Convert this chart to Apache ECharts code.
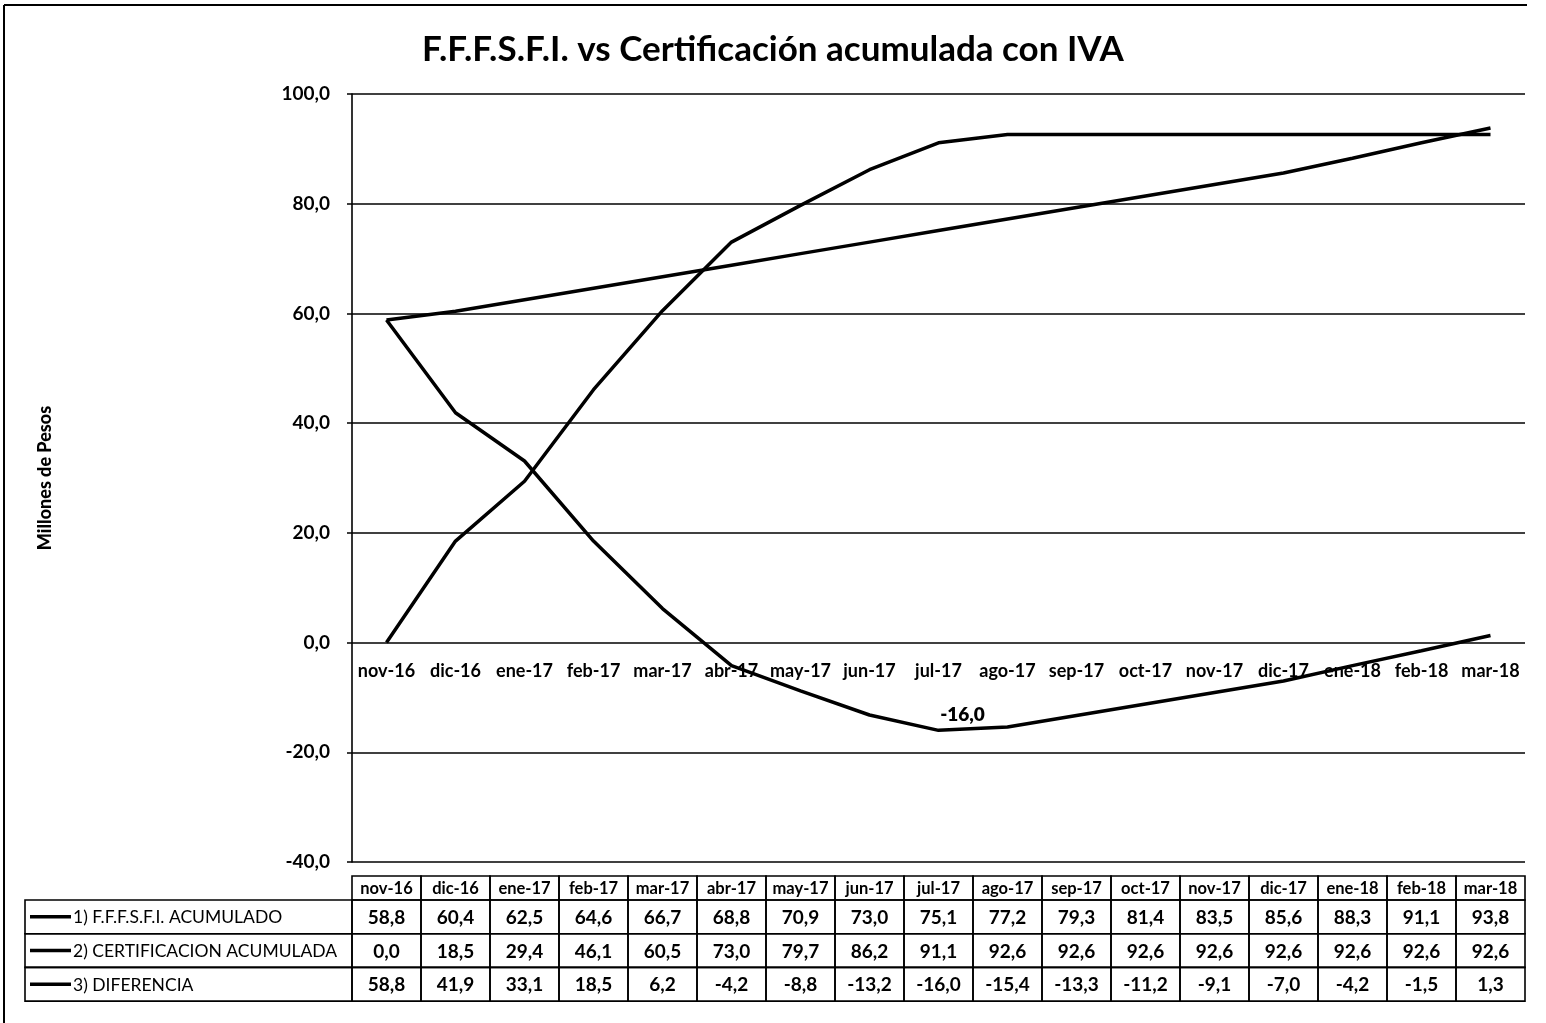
<!DOCTYPE html>
<html>
<head>
<meta charset="utf-8">
<script src="https://cdn.jsdelivr.net/npm/echarts@6/dist/echarts.min.js"></script>
<style>
  html, body { margin: 0; padding: 0; background: #fff; }
  #chart { width: 1546px; height: 1023px; }
</style>
</head>
<body>
<div id="chart"></div>
<script>
// Monthly accumulated figures, millions of pesos
const categories = ['nov-16', 'dic-16', 'ene-17', 'feb-17', 'mar-17', 'abr-17', 'may-17', 'jun-17', 'jul-17',
  'ago-17', 'sep-17', 'oct-17', 'nov-17', 'dic-17', 'ene-18', 'feb-18', 'mar-18'];
const fffsfiAcumulado = [58.8, 60.4, 62.5, 64.6, 66.7, 68.8, 70.9, 73.0, 75.1, 77.2, 79.3, 81.4, 83.5, 85.6, 88.3, 91.1, 93.8];
const certificacionAcumulada = [0.0, 18.5, 29.4, 46.1, 60.5, 73.0, 79.7, 86.2, 91.1, 92.6, 92.6, 92.6, 92.6, 92.6, 92.6, 92.6, 92.6];
const diferencia = [58.8, 41.9, 33.1, 18.5, 6.2, -4.2, -8.8, -13.2, -16.0, -15.4, -13.3, -11.2, -9.1, -7.0, -4.2, -1.5, 1.3];
const seriesNames = ['1) F.F.F.S.F.I. ACUMULADO', '2) CERTIFICACION ACUMULADA', '3) DIFERENCIA'];
const labelledMonth = 'jul-17';
const yMin = -40, yMax = 100, yStep = 20;

const FONT = 'Lato';
const fmt = v => v.toFixed(1).replace('.', ',');

const GRID = { left: 352, right: 21, top: 94, bottom: 161 };
const plotHeight = 1023 - GRID.top - GRID.bottom;
// the category labels sit just under the zero line
const zeroOffset = -plotHeight * (0 - yMin) / (yMax - yMin);

const chart = echarts.init(document.getElementById('chart'), null, { renderer: 'canvas' });

const lineStyle = { color: '#000', width: 3.5 };
const pointLabel = { position: 'top', distance: 6, offset: [24, 0], formatter: p => fmt(p.value),
  color: '#000', fontFamily: FONT, fontWeight: 800, fontSize: 19 };
const diferenciaData = diferencia.map((v, i) => categories[i] === labelledMonth
  ? { value: v, label: Object.assign({ show: true }, pointLabel) }
  : v);

chart.setOption({
  animation: false,
  backgroundColor: '#fff',
  title: {
    text: 'F.F.F.S.F.I. vs Certificación acumulada con IVA',
    left: 'center', top: 27,
    textStyle: { fontFamily: FONT, fontWeight: 'bold', fontSize: 35, color: '#000' }
  },
  grid: Object.assign({ containLabel: false }, GRID),
  xAxis: {
    type: 'category',
    data: categories,
    boundaryGap: true,
    position: 'bottom',
    offset: zeroOffset,
    axisLine: { show: false },
    axisTick: { show: false },
    axisLabel: { color: '#000', fontFamily: FONT, fontWeight: 'bold', fontSize: 18, margin: 20, interval: 0 },
    splitLine: { show: false }
  },
  yAxis: {
    type: 'value',
    min: yMin, max: yMax, interval: yStep,
    name: 'Millones de Pesos',
    nameLocation: 'middle',
    nameGap: 298,
    nameRotate: 90,
    nameTextStyle: { color: '#000', fontFamily: FONT, fontWeight: 900, fontSize: 18 },
    axisLine: { show: true, lineStyle: { color: '#000', width: 1.6 } },
    axisTick: { show: true, length: 5, lineStyle: { color: '#000', width: 1.5 } },
    axisLabel: { color: '#000', fontFamily: FONT, fontWeight: 'bold', fontSize: 19, margin: 22, formatter: v => fmt(v) },
    splitLine: { show: true, lineStyle: { color: '#000', width: 1.6 } }
  },
  series: [
    { name: seriesNames[0], type: 'line', data: fffsfiAcumulado, showSymbol: false, symbol: 'none', lineStyle },
    { name: seriesNames[1], type: 'line', data: certificacionAcumulada, showSymbol: false, symbol: 'none', lineStyle },
    { name: seriesNames[2], type: 'line', data: diferenciaData, showSymbol: true, symbol: 'circle', symbolSize: 0.1,
      label: Object.assign({ show: false }, pointLabel), itemStyle: { color: '#000' }, lineStyle }
  ]
});

// Data table under the plot, with columns aligned to the category axis
function buildTable() {
  const c0 = chart.convertToPixel({ xAxisIndex: 0 }, categories[0]);
  const c1 = chart.convertToPixel({ xAxisIndex: 0 }, categories[1]);
  const step = c1 - c0;
  const colLeft = i => c0 - step / 2 + i * step;
  const headerTop = 876, headerBottom = 900, rowH = 33.7;
  const labelLeft = 25;
  const border = { stroke: '#000', lineWidth: 1.6, fill: 'transparent' };
  const cellText = (x, y, text, size) => ({
    type: 'text', x, y,
    style: { text, fill: '#000', font: `bold ${size}px ${FONT}`, textAlign: 'center', textVerticalAlign: 'middle' }
  });
  const els = [];

  // header row: month names
  categories.forEach((cat, i) => {
    els.push({ type: 'rect', shape: { x: colLeft(i), y: headerTop, width: step, height: headerBottom - headerTop }, style: border });
    els.push(cellText(colLeft(i) + step / 2, (headerTop + headerBottom) / 2 + 1, cat, 16.5));
  });

  // series rows with legend key and values
  const rows = [fffsfiAcumulado, certificacionAcumulada, diferencia];
  rows.forEach((vals, r) => {
    const top = headerBottom + r * rowH;
    const mid = top + rowH / 2;
    els.push({ type: 'rect', shape: { x: labelLeft, y: top, width: colLeft(0) - labelLeft, height: rowH }, style: border });
    els.push({ type: 'line', shape: { x1: labelLeft + 5, y1: mid, x2: labelLeft + 46, y2: mid }, style: { stroke: '#000', lineWidth: 3.5 } });
    els.push({ type: 'text', x: labelLeft + 48, y: mid + 1,
      style: { text: seriesNames[r], fill: '#000', font: `17.5px ${FONT}`, textAlign: 'left', textVerticalAlign: 'middle' } });
    vals.forEach((v, i) => {
      els.push({ type: 'rect', shape: { x: colLeft(i), y: top, width: step, height: rowH }, style: border });
      els.push(cellText(colLeft(i) + step / 2, mid + 1, fmt(v), 19));
    });
  });

  // frame edges of the sheet
  els.push({ type: 'line', shape: { x1: 4, y1: 5, x2: 1527, y2: 5 }, style: { stroke: '#000', lineWidth: 2 } });
  els.push({ type: 'line', shape: { x1: 4, y1: 5, x2: 4, y2: 1023 }, style: { stroke: '#000', lineWidth: 2 } });

  chart.setOption({ graphic: els });
}
buildTable();
</script>
</body>
</html>
